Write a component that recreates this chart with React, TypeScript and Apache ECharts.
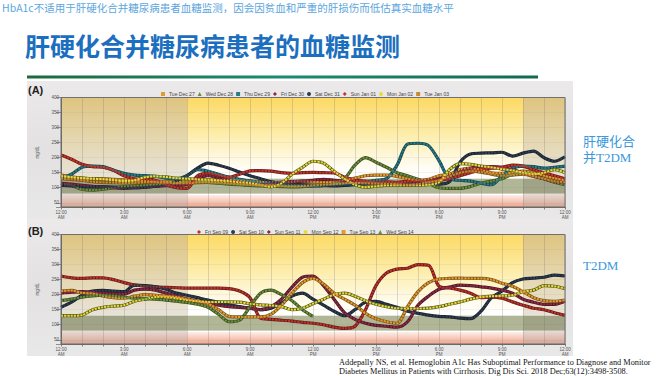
import React, { useEffect, useRef } from 'react';
import * as echarts from 'echarts';

// time grid (hours after midnight), one reading every 30 min
const HOURS = [0, 0.5, 1, 1.5, 2, 2.5, 3, 3.5, 4, 4.5, 5, 5.5, 6, 6.5, 7, 7.5, 8, 8.5, 9, 9.5, 10, 10.5, 11, 11.5, 12, 12.5, 13, 13.5, 14, 14.5, 15, 15.5, 16, 16.5, 17, 17.5, 18, 18.5, 19, 19.5, 20, 20.5, 21, 21.5, 22, 22.5, 23, 23.5, 24];
const TIME_LABELS = ['12:00\nAM', '3:00\nAM', '6:00\nAM', '9:00\nAM', '12:00\nPM', '3:00\nPM', '6:00\nPM', '9:00\nPM', '12:00\nAM'];

const Y_MIN = 36;
const Y_MAX = 400;
const TARGET_LOW = 80;
const TARGET_HIGH = 130;
const HYPO = 76;
const DAY_START = 6;
const DAY_END = 22;

// Panel A: cirrhosis + T2DM
const A_NAMES = ['Tue Dec 27', 'Wed Dec 28', 'Thu Dec 29', 'Fri Dec 30', 'Sat Dec 31', 'Sun Jan 01', 'Mon Jan 02', 'Tue Jan 03'];
const A_TUE_DEC27 = [142, 136, 132, 130, 130, 128, 126, 124, 122, 121, 120, 120, 121, 122, 122, 125, 127, 125, 122, 120, 118, 118, 120, 122, 120, 118, 120, 125, 132, 140, 142, 142, 138, 130, 125, 128, 140, 145, 160, 165, 160, 150, 148, 150, 155, 150, 140, 132, 125];
const A_WED_DEC28 = [114, 108, 95, 92, 95, 100, 104, 106, 108, 110, 112, 115, 118, 120, 118, 115, 112, 110, 108, 106, 105, 104, 103, 104, 106, 108, 112, 130, 175, 200, 185, 168, 150, 140, 128, 115, 100, 98, 98, 104, 115, 122, 130, 145, 150, 140, 130, 118, 110];
const A_THU_DEC29 = [132, 145, 168, 172, 170, 158, 148, 142, 140, 138, 132, 130, 140, 160, 155, 145, 135, 128, 122, 118, 115, 112, 110, 108, 106, 108, 110, 112, 115, 120, 125, 130, 175, 245, 248, 240, 190, 130, 125, 122, 115, 110, 140, 165, 172, 170, 165, 168, 172];
const A_FRI_DEC30 = [115, 112, 108, 105, 103, 100, 98, 100, 102, 105, 107, 108, 112, 130, 140, 132, 125, 118, 115, 112, 115, 118, 120, 122, 125, 128, 125, 122, 120, 118, 115, 113, 115, 118, 120, 125, 130, 140, 155, 165, 170, 170, 168, 160, 150, 140, 130, 120, 115];
const A_SAT_DEC31 = [108, 106, 104, 103, 103, 102, 100, 100, 102, 105, 110, 122, 140, 165, 182, 175, 165, 152, 140, 130, 120, 115, 112, 110, 108, 107, 106, 108, 110, 112, 115, 113, 112, 110, 112, 115, 112, 120, 185, 212, 215, 216, 218, 205, 215, 222, 200, 188, 203];
const A_SUN_JAN01 = [209, 195, 178, 170, 168, 158, 140, 130, 128, 125, 110, 100, 98, 140, 148, 142, 135, 145, 156, 157, 155, 150, 148, 150, 151, 150, 149, 135, 125, 122, 118, 120, 118, 122, 125, 120, 125, 130, 140, 150, 160, 165, 168, 175, 172, 160, 150, 140, 130];
const A_MON_JAN02 = [138, 135, 132, 130, 128, 125, 122, 125, 135, 138, 136, 132, 130, 128, 127, 124, 122, 118, 115, 110, 103, 115, 145, 168, 188, 182, 155, 130, 110, 102, 105, 108, 108, 108, 108, 110, 118, 160, 180, 178, 172, 168, 162, 158, 150, 145, 150, 160, 150];
const A_TUE_JAN03 = [130, 128, 125, 120, 118, 117, 116, 116, 118, 118, 117, 115, 115, 117, 118, 117, 115, 112, 110, 108, 108, 106, 105, 106, 108, 110, 112, 115, 116, 115, 114, 113, 112, 110, 112, 118, 125, 138, 150, 155, 152, 145, 140, 142, 145, 138, 130, 122, 118];
const A_VALUES = [A_TUE_DEC27, A_WED_DEC28, A_THU_DEC29, A_FRI_DEC30, A_SAT_DEC31, A_SUN_JAN01, A_MON_JAN02, A_TUE_JAN03];

// Panel B: T2DM
const B_NAMES = ['Fri Sep 09', 'Sat Sep 10', 'Sun Sep 11', 'Mon Sep 12', 'Tue Sep 13', 'Wed Sep 14'];
const B_FRI_SEP09 = [262, 256, 254, 256, 256, 250, 240, 232, 228, 226, 224, 223, 222, 222, 222, 222, 220, 212, 190, 122, 118, 115, 112, 108, 105, 100, 92, 88, 95, 150, 230, 272, 285, 288, 300, 298, 228, 222, 215, 205, 190, 192, 188, 176, 165, 155, 150, 140, 131];
const B_SAT_SEP10 = [158, 175, 198, 212, 214, 212, 210, 232, 230, 226, 218, 205, 198, 190, 182, 175, 166, 160, 155, 150, 155, 172, 195, 205, 185, 165, 145, 130, 150, 175, 178, 168, 158, 145, 138, 132, 128, 126, 122, 120, 145, 190, 212, 240, 252, 255, 258, 265, 262];
const B_SUN_SEP11 = [205, 208, 210, 208, 205, 203, 202, 215, 218, 215, 205, 195, 185, 178, 172, 165, 160, 158, 155, 150, 160, 185, 225, 258, 262, 230, 185, 140, 118, 105, 98, 95, 92, 110, 165, 195, 218, 225, 232, 230, 226, 222, 215, 205, 185, 175, 168, 168, 178];
const B_MON_SEP12 = [130, 130, 132, 150, 158, 162, 165, 178, 185, 192, 193, 188, 182, 178, 176, 176, 176, 175, 170, 166, 164, 160, 150, 155, 170, 185, 200, 205, 195, 180, 168, 160, 155, 154, 154, 155, 160, 168, 176, 185, 192, 195, 196, 198, 210, 215, 230, 228, 220];
const B_TUE_SEP13 = [212, 214, 206, 204, 196, 190, 188, 195, 200, 198, 195, 192, 185, 178, 170, 150, 128, 126, 126, 126, 135, 165, 205, 240, 254, 235, 205, 185, 165, 138, 120, 110, 105, 160, 210, 240, 252, 254, 255, 254, 254, 250, 238, 228, 210, 190, 180, 178, 182];
const B_WED_SEP14 = [180, 185, 192, 196, 198, 196, 192, 188, 186, 185, 182, 178, 174, 168, 158, 135, 110, 115, 160, 205, 215, 200, 180, 150, 128];
const B_VALUES = [B_FRI_SEP09, B_SAT_SEP10, B_SUN_SEP11, B_MON_SEP12, B_TUE_SEP13, B_WED_SEP14];

const A_COLORS = ['#e49b2e', '#6d8f3b', '#2b7d87', '#8c2a45', '#2e3d52', '#c3362e', '#e2dc3c', '#c98a2f'];
const A_ICONS = ['rect', 'triangle', 'rect', 'diamond', 'circle', 'diamond', 'circle', 'rect'];
const B_COLORS = ['#bd332d', '#2e3d52', '#8c2a45', '#e2dc3c', '#e49b2e', '#6d8f3b'];
const B_ICONS = ['diamond', 'circle', 'diamond', 'circle', 'rect', 'triangle'];

function shade(hex: string, f: number) {
  const n = parseInt(hex.slice(1), 16);
  const r = (n >> 16) & 255, g = (n >> 8) & 255, b = n & 255;
  return `rgb(${Math.round(r * f)},${Math.round(g * f)},${Math.round(b * f)})`;
}

function vgrad(stops: [number, string][]) {
  return { type: 'linear', x: 0, y: 0, x2: 0, y2: 1, colorStops: stops.map(([offset, color]) => ({ offset, color })) };
}

function bgSeries(idx: number) {
  const cols: [number, number, boolean][] = [[0, DAY_START, true], [DAY_START, DAY_END, false], [DAY_END, 24, true]];
  const areas: any[] = [];
  cols.forEach(([x0, x1, night]) => {
    areas.push([{ xAxis: x0, yAxis: TARGET_HIGH, itemStyle: { color: night ? vgrad([[0, '#dec47f'], [0.5, '#e4d6ae'], [1, '#e8e3d9']]) : vgrad([[0, '#fcd963'], [0.45, '#fdedaa'], [0.85, '#fffcf2'], [1, '#ffffff']]) } }, { xAxis: x1, yAxis: Y_MAX }]);
    areas.push([{ xAxis: x0, yAxis: TARGET_LOW, itemStyle: { color: night ? '#a0a385' : '#b0b696' } }, { xAxis: x1, yAxis: TARGET_HIGH }]);
    areas.push([{ xAxis: x0, yAxis: HYPO, itemStyle: { color: night ? '#e3dbd4' : '#ffffff' } }, { xAxis: x1, yAxis: TARGET_LOW }]);
    areas.push([{ xAxis: x0, yAxis: Y_MIN, itemStyle: { color: night ? vgrad([[0, '#e6d6cf'], [1, '#d6a594']]) : vgrad([[0, '#fdefe9'], [1, '#efa48a']]) } }, { xAxis: x1, yAxis: HYPO }]);
  });
  return {
    type: 'line', xAxisIndex: idx, yAxisIndex: idx, data: [[0, Y_MAX]], symbol: 'none', showSymbol: false,
    lineStyle: { opacity: 0 }, silent: true, z: 1,
    markArea: { silent: true, z: 1, label: { show: false }, data: areas },
  };
}

function daySeries(name: string, values: number[], color: string, idx: number) {
  const pts = values.map((v, i) => [HOURS[i], v]);
  const dark = color === '#e2dc3c' ? shade(color, 0.42) : shade(color, 0.55);
  return [
    { name: name + ' outline', type: 'line', xAxisIndex: idx, yAxisIndex: idx, data: pts, smooth: 0.3, showSymbol: false, symbol: 'none', silent: true, z: 3, lineStyle: { width: 3.2, color: dark }, itemStyle: { color: dark } },
    { name, type: 'line', xAxisIndex: idx, yAxisIndex: idx, data: pts, smooth: 0.3, showSymbol: false, symbol: 'none', silent: true, z: 4, lineStyle: { width: 2, color, type: [2.2, 1] }, itemStyle: { color } },
  ];
}

function xAxis(idx: number) {
  return {
    type: 'value', gridIndex: idx, min: 0, max: 24, interval: 1, z: 2,
    axisLine: { show: true, lineStyle: { color: '#666', width: 1 } },
    axisTick: { show: true, length: 2.5, lineStyle: { color: '#666', width: 0.8 } },
    axisLabel: { fontSize: 4.5, lineHeight: 5, color: '#555', margin: 3, fontFamily: 'Liberation Sans', showMinLabel: true, showMaxLabel: true, formatter: (v: number) => (v % 3 === 0 ? TIME_LABELS[v / 3] : '') },
    splitLine: { show: true, lineStyle: { color: 'rgba(110,110,110,0.3)', width: 0.8 } },
  };
}

function yAxis(idx: number) {
  return {
    type: 'value', gridIndex: idx, min: Y_MIN, max: Y_MAX, splitNumber: 7, z: 2,
    name: 'mg/dL', nameLocation: 'middle', nameGap: 21, nameRotate: 90,
    nameTextStyle: { fontSize: 4.5, color: '#555', fontFamily: 'Liberation Sans' },
    axisLine: { show: true, lineStyle: { color: '#666', width: 1 } },
    axisTick: { show: true, length: 5, lineStyle: { color: '#777', width: 0.8 } },
    axisLabel: { fontSize: 4.5, color: '#555', margin: 2, fontFamily: 'Liberation Sans', formatter: (v: number) => (v % 50 === 0 ? String(v) : '') },
    splitLine: { show: true, lineStyle: { color: 'rgba(110,110,110,0.13)', width: 0.6 } },
  };
}

function legend(names: string[], icons: string[], left: number, top: number) {
  return {
    data: names.map((n, i) => ({ name: n, icon: icons[i] })), left, top, orient: 'horizontal',
    itemWidth: 4, itemHeight: 4, itemGap: 3, selectedMode: false,
    textStyle: { fontSize: 5, color: '#444', fontFamily: 'Liberation Sans', padding: [0, 0, 0, -1] },
  };
}

function txt(text: string, x: number, y: number, fontSize: number, fill: string, fontFamily: string, fontWeight = 'normal') {
  return { type: 'text', x, y, silent: true, z: 10, style: { text, fill, fontSize, fontFamily, fontWeight, textAlign: 'left', textVerticalAlign: 'middle', align: 'left', verticalAlign: 'middle' } };
}

export default function App() {
  const ref = useRef<HTMLDivElement>(null);
  useEffect(() => {
    if (!ref.current) return;
    const chart = echarts.init(ref.current, undefined, { renderer: 'svg' });
    const series: any[] = [bgSeries(0), bgSeries(1)];
    A_VALUES.forEach((v, i) => series.push(...daySeries(A_NAMES[i], v, A_COLORS[i], 0)));
    B_VALUES.forEach((v, i) => series.push(...daySeries(B_NAMES[i], v, B_COLORS[i], 1)));
    const panelFill = vgrad([[0, '#ebe9e9'], [0.5, '#e3e1e1'], [1, '#e9e8e8']]);
    chart.setOption({
      animation: false,
      backgroundColor: '#ffffff',
      grid: [
        { left: 61, top: 97.5, width: 504, height: 109.5, show: true, backgroundColor: 'transparent', borderColor: '#6f6f6f', borderWidth: 1, z: 5, containLabel: false, outerBoundsMode: 'none' },
        { left: 61, top: 234.5, width: 504, height: 109.5, show: true, backgroundColor: 'transparent', borderColor: '#6f6f6f', borderWidth: 1, z: 5, containLabel: false, outerBoundsMode: 'none' },
      ],
      xAxis: [xAxis(0), xAxis(1)],
      yAxis: [yAxis(0), yAxis(1)],
      legend: [legend(A_NAMES, A_ICONS, 156, 86.5), legend(B_NAMES, B_ICONS, 192, 224.5)],
      tooltip: { show: false },
      series,
      graphic: [
        { type: 'rect', z: -10, silent: true, shape: { x: 27, y: 81, width: 546, height: 138 }, style: { fill: panelFill } },
        { type: 'rect', z: -10, silent: true, shape: { x: 27, y: 219, width: 546, height: 137 }, style: { fill: panelFill } },
        { type: 'rect', z: -9, silent: true, shape: { x: 27, y: 75.5, width: 511, height: 3 }, style: { fill: { type: 'linear', x: 0, y: 0, x2: 1, y2: 0, colorStops: [{ offset: 0, color: '#1a6b3c' }, { offset: 0.5, color: '#1b8a70' }, { offset: 1, color: '#136a50' }] } } },
        txt('HbA1c不适用于肝硬化合并糖尿病患者血糖监测，因会因贫血和严重的肝损伤而低估真实血糖水平', 2, 7.5, 10.5, '#5ba6de', 'Noto Sans CJK SC'),
        txt('肝硬化合并糖尿病患者的血糖监测', 25, 45, 25, '#1c6ebe', 'Noto Sans CJK SC', 'bold'),
        txt('(A)', 28, 90, 11, '#1e1e1e', 'Liberation Sans', 'bold'),
        txt('(B)', 28, 231, 11, '#1e1e1e', 'Liberation Sans', 'bold'),
        txt('肝硬化合', 583, 141, 13, '#3a98dc', 'Liberation Serif, Noto Sans CJK SC'),
        txt('并T2DM', 583, 157, 13, '#3a98dc', 'Liberation Serif, Noto Sans CJK SC'),
        txt('T2DM', 583, 265, 13, '#3a98dc', 'Liberation Serif'),
        txt('Addepally NS, et al. Hemoglobin A1c Has Suboptimal Performance to Diagnose and Monitor', 339, 362.5, 8.3, '#111111', 'Liberation Serif'),
        txt('Diabetes Mellitus in Patients with Cirrhosis. Dig Dis Sci. 2018 Dec;63(12):3498-3508.', 339, 371.8, 8.3, '#111111', 'Liberation Serif'),
      ],
    });
    return () => chart.dispose();
  }, []);
  return <div ref={ref} style={{ position: 'absolute', left: 0, top: 0, width: 667, height: 376 }} />;
}
